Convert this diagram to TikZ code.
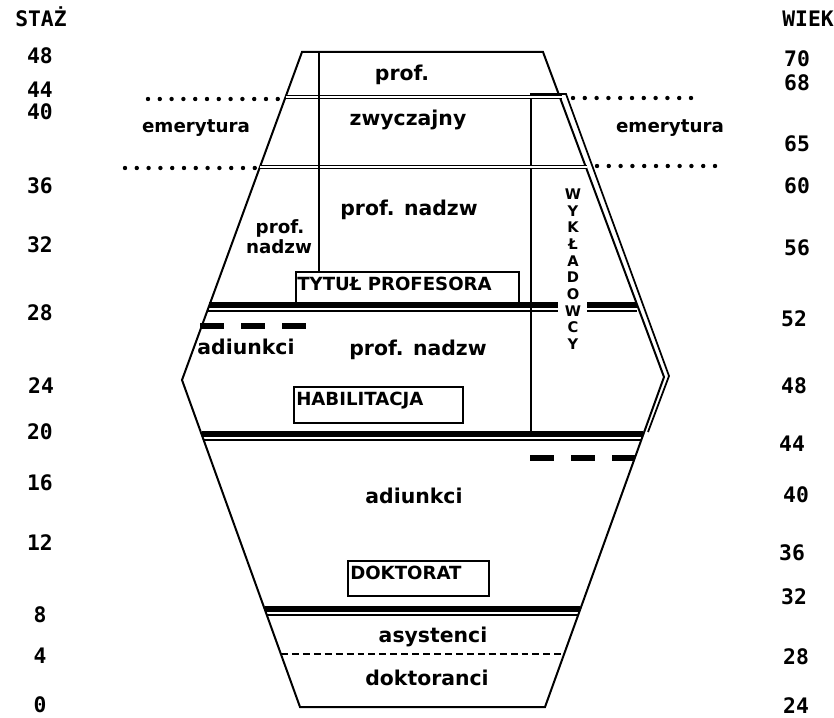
\documentclass[tikz,border=0pt]{standalone}
\usepackage{fontspec}
\setmainfont{DejaVu Sans}
\newfontfamily\numfont{DejaVu Sans Mono}
\begin{document}
\begin{tikzpicture}[x=0.75pt,y=-0.75pt,
	lbl/.style={font=\fontsize{15.3}{18}\selectfont\bfseries, inner sep=0pt, anchor=base},
	smlbl/.style={lbl, font=\fontsize{13.7}{16}\selectfont\bfseries},
	num/.style={font=\numfont\fontsize{16}{18}\selectfont\bfseries, inner sep=0pt, anchor=base},
	boxtext/.style={font=\fontsize{13.6}{15}\selectfont\bfseries, inner sep=0pt, anchor=base west},
	labelbox/.style={draw, line width=1.3pt, inner sep=0pt, anchor=north west},
	rim/.style={line width=1.5pt, line join=miter},
	dbl/.style={double, line width=1pt, double distance=1.3pt},
	dots/.style={line width=3.3pt, line cap=round, dash pattern=on 0pt off 8.85pt},
	bigdash/.style={line width=3.9pt, dash pattern=on 18pt off 12.75pt},
	band/.style={line width=4pt},
	bandlow/.style={line width=1.8pt}
]
\useasboundingbox (0,0) rectangle (834,717);

%Outline
\coordinate (tl) at (302,52);
\coordinate (tr) at (543,52);
\coordinate (rv) at (664,377);
\coordinate (br) at (545,707);
\coordinate (bl) at (300,707);
\coordinate (lv) at (182,380);
\draw[rim] (tl) -- (tr) -- (rv) -- (br) -- (bl) -- (lv) -- cycle;

%Wykladowcy column
\coordinate (wtop) at (531,94);
\draw[line width=1.3pt, line join=miter] (531,432) -- (wtop) -- (566,94) -- (669,376) -- (648,432);
\node [font=\fontsize{11}{12.5}\selectfont\bfseries, align=center, inner sep=0pt]  (wyk)at (573,269) {W\\Y\\K\\Ł\\A\\D\\O\\W\\C\\Y};

%Emerytura
\draw[dbl] (285.5,97) -- (562,97);
\draw[dbl] (260,167) -- (587,167);
\draw[dots] (148,99) -- (278,99);
\draw[dots] (573,98) -- (692,98);
\draw[dots] (125,168) -- (255,168);
\draw[dots] (597,166) -- (717,166);
\node [smlbl]  (emerl)at (196,132) {emerytura};
\node [smlbl]  (emerr)at (670,132) {emerytura};

\node [lbl]  (zwtext)at (402,80) {prof.};
\node [lbl]  (zwtext2)at (408,125) {zwyczajny};
\node [lbl]  (nadztext)at (409,215) {prof. nadzw};
\node [smlbl]  (nadzl)at (280,233) {prof.};
\node [smlbl]  (nadzl2)at (279,253) {nadzw};

%Tytul profesora
\node [labelbox, minimum width=167.25pt, minimum height=24.75pt]  (tytbox)at (295,271) {};
\node [boxtext]  (tyttext)at ([shift={(2,19)}]tytbox.north west) {TYTUŁ PROFESORA};
\draw[line width=1.3pt] (319,52) -- (tytbox.north west -| 319,0);

\draw[band] (209.4,305) -- (558,305);
\draw[band] (587,305) -- (637.2,305);
\draw[bandlow] (207.2,311) -- (558,311);
\draw[bandlow] (587,311) -- (637,311);

\draw[bigdash] (200,326) -- (306,326);
\node [lbl]  (adl)at (246,354) {adiunkci};
\node [lbl]  (nadztext2)at (418,355) {prof. nadzw};

%Habilitacja
\node [labelbox, minimum width=126.75pt, minimum height=27pt]  (habbox)at (293,386) {};
\node [boxtext]  (habtext)at ([shift={(3,19)}]habbox.north west) {HABILITACJA};

\draw[band] (201.5,434) -- (643.4,434);
\draw[bandlow] (203.7,440) -- (641.3,440);
\draw[bigdash] (530,458) -- (635,458);

\node [lbl]  (adtext)at (414,503) {adiunkci};

%Doktorat
\node [labelbox, minimum width=105.75pt, minimum height=26.25pt]  (dokbox)at (347,560) {};
\node [boxtext]  (doktext)at ([shift={(3,19)}]dokbox.north west) {DOKTORAT};

\draw[band] (264.6,609) -- (580.3,609);
\draw[bandlow] (266.8,615) -- (578.2,615);

\node [lbl]  (astext)at (433,642) {asystenci};
\draw[line width=1pt, dash pattern=on 5.2pt off 3pt] (281,654) -- (564,654);
\node [lbl]  (dttext)at (427,685) {doktoranci};

%Staz
\node [num]  (staz)at (41,27) {STAŻ};
\node [num]  (s48)at (40,64) {48};
\node [num]  (s44)at (40,97) {44};
\node [num]  (s40)at (40,119) {40};
\node [num]  (s36)at (40,193) {36};
\node [num]  (s32)at (40,252) {32};
\node [num]  (s28)at (40,320) {28};
\node [num]  (s24)at (41,393) {24};
\node [num]  (s20)at (40,439) {20};
\node [num]  (s16)at (40,490) {16};
\node [num]  (s12)at (40,550) {12};
\node [num]  (s8)at (40,622) {8};
\node [num]  (s4)at (40,663) {4};
\node [num]  (s0)at (40,712) {0};

%Wiek
\node [num]  (wiek)at (808,27) {WIEK};
\node [num]  (w70)at (797,66) {70};
\node [num]  (w68)at (797,90) {68};
\node [num]  (w65)at (797,151) {65};
\node [num]  (w60)at (797,193) {60};
\node [num]  (w56)at (797,255) {56};
\node [num]  (w52)at (794,326) {52};
\node [num]  (w48)at (794,393) {48};
\node [num]  (w44)at (792,451) {44};
\node [num]  (w40)at (796,502) {40};
\node [num]  (w36)at (792,560) {36};
\node [num]  (w32)at (794,604) {32};
\node [num]  (w28)at (796,664) {28};
\node [num]  (w24)at (796,713) {24};

\end{tikzpicture}
\end{document}
